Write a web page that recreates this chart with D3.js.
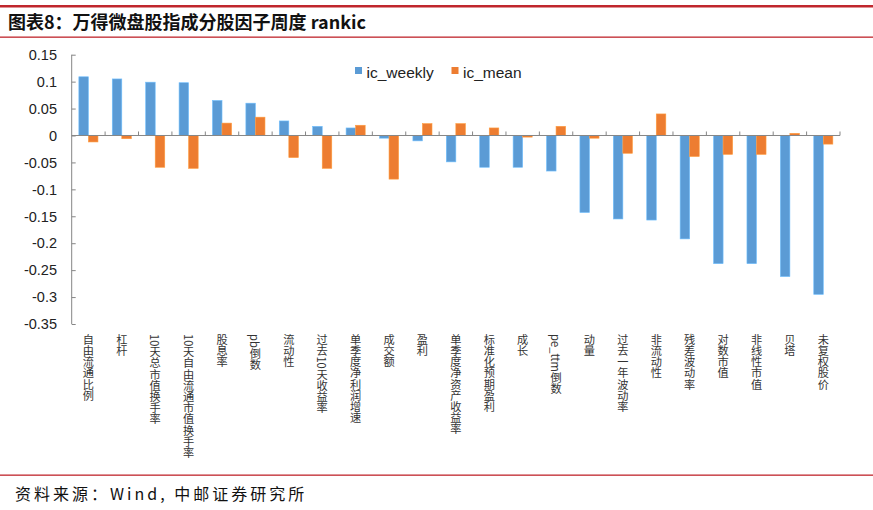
<!DOCTYPE html>
<html><head><meta charset="utf-8">
<script src="https://cdn.jsdelivr.net/npm/d3@7"></script>
<style>
html,body{margin:0;padding:0;background:#fff;}
svg{display:block;}
</style></head>
<body>
<svg id="chart" width="873" height="510"></svg>
<script>
const categories = ["自由流通比例","杠杆","10天总市值换手率","10天自由流通市值换手率","股息率","pb倒数","流动性","过去10天收益率","单季度净利润增速","成交额","盈利","单季度净资产收益率","标准化预期盈利","成长","pe_ttm倒数","动量","过去一年波动率","非流动性","残差波动率","对数市值","非线性市值","贝塔","未复权股价"];
const icWeekly = [0.109,0.105,0.099,0.098,0.065,0.060,0.027,0.017,0.014,-0.005,-0.010,-0.049,-0.059,-0.059,-0.066,-0.143,-0.155,-0.157,-0.192,-0.238,-0.238,-0.262,-0.295];
const icMean = [-0.012,-0.006,-0.059,-0.061,0.023,0.034,-0.041,-0.061,0.019,-0.081,0.022,0.022,0.014,-0.003,0.017,-0.005,-0.033,0.040,-0.039,-0.035,-0.035,0.004,-0.016];
const seriesNames = ["ic_weekly","ic_mean"];
const seriesColors = ["#5B9BD5","#ED7D31"];
const yTicks = [0.15,0.1,0.05,0,-0.05,-0.1,-0.15,-0.2,-0.25,-0.3,-0.35];
const title = "图表8：万得微盘股指成分股因子周度 rankic";
const source = "资料来源：Wind, 中邮证券研究所";

const svg = d3.select("#chart");
const red = "#C0262D";
const axisColor = "#868686";

// header / footer
svg.append("rect").attr("x",0).attr("y",5).attr("width",873).attr("height",2.5).attr("fill",red);
svg.append("text").attr("x",8).attr("y",29)
  .attr("font-family","'Noto Sans CJK SC'").attr("font-weight","bold").attr("font-size",18)
  .attr("fill","#111").text(title);
svg.append("rect").attr("x",0).attr("y",36.5).attr("width",873).attr("height",1.3).attr("fill",red);
svg.append("rect").attr("x",0).attr("y",474.5).attr("width",873).attr("height",1.3).attr("fill",red);
svg.append("text").attr("x",15).attr("y",500)
  .attr("font-family","'Noto Sans CJK SC'").attr("font-size",16).attr("letter-spacing",3)
  .attr("fill","#111").text(source);

// scales
const x0 = d3.scaleBand().domain(categories).range([71.7, 840]).paddingInner(0).paddingOuter(0);
const bw = x0.bandwidth();
const x1 = d3.scaleBand().domain(seriesNames).range([bw*1.5/7, bw - bw*1.5/7]).padding(0);
const y = d3.scaleLinear().domain([-0.35, 0.15]).range([324, 54.7]);

const g = svg.append("g");

// y axis
const fmt = d => (Math.round(d*100)/100).toString();
const yAxis = d3.axisRight(y).tickValues(yTicks).tickSize(4).tickFormat("");
const ya = g.append("g").attr("transform",`translate(${x0.range()[0]},0)`).call(yAxis);
ya.select(".domain").attr("stroke",axisColor).attr("d",`M0,${y(0.15)}V${y(-0.35)}`);
ya.selectAll(".tick line").attr("stroke",axisColor);
g.append("g").selectAll("text").data(yTicks).join("text")
  .attr("x",57).attr("y",d=>y(d)).attr("dy","0.36em").attr("text-anchor","end")
  .attr("font-family","Arial, 'Liberation Sans'").attr("font-size",14.5).attr("fill","#222")
  .text(fmt);

// bars
const data = categories.map((c,i)=>({c, vals:[icWeekly[i], icMean[i]]}));
const groups = g.append("g").selectAll("g").data(data).join("g")
  .attr("transform",d=>`translate(${x0(d.c)},0)`);
groups.selectAll("rect").data(d=>d.vals.map((v,j)=>({v, s:seriesNames[j], j})))
  .join("rect")
  .attr("x",d=>x1(d.s)).attr("width",x1.bandwidth())
  .attr("y",d=>y(Math.max(0,d.v))).attr("height",d=>Math.abs(y(d.v)-y(0)))
  .attr("fill",d=>seriesColors[d.j])
  .attr("stroke",d=>d3.color(seriesColors[d.j]).brighter(0.6))
  .attr("stroke-width",0.6);

// x axis at zero
const zeroY = y(0);
g.append("line").attr("x1",x0.range()[0]).attr("x2",x0.range()[1])
  .attr("y1",zeroY).attr("y2",zeroY).attr("stroke",axisColor).attr("stroke-width",1);
const bounds = categories.map(c=>x0(c)).concat([x0.range()[1]]);
g.append("g").selectAll("line").data(bounds.slice(1)).join("line")
  .attr("x1",d=>d).attr("x2",d=>d).attr("y1",zeroY).attr("y2",zeroY-4)
  .attr("stroke",axisColor);

// category labels (vertical)
g.append("g").selectAll("text").data(categories).join("text")
  .attr("x",d=>x0(d)+bw/2).attr("y",334)
  .attr("font-family","'Noto Sans CJK SC'").attr("font-size",11.2).attr("fill","#333")
  .style("writing-mode","vertical-rl").style("text-orientation","mixed")
  .text(d=>d);

// legend
const legX = [355, 451.5];
const leg = g.append("g").selectAll("g").data(seriesNames).join("g")
  .attr("transform",(d,i)=>`translate(${legX[i]},0)`);
leg.append("rect").attr("x",0).attr("y",67).attr("width",7).attr("height",7)
  .attr("fill",(d,i)=>seriesColors[i]);
leg.append("text").attr("x",11.5).attr("y",77.5)
  .attr("font-family","Arial, 'Liberation Sans'").attr("font-size",15.5).attr("fill","#222")
  .text(d=>d);
</script>
</body></html>
